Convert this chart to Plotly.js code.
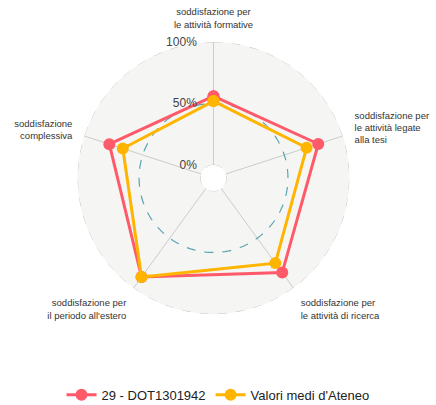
<!DOCTYPE html>
<html>
<head>
<meta charset="utf-8">
<script src="https://cdn.plot.ly/plotly-3.0.1.min.js"></script>
<style>html,body{margin:0;padding:0;background:#fff;}#chart{width:436px;height:405px;}</style>
</head>
<body>
<div id="chart"></div>
<script>
const categories = [
  "soddisfazione per<br>le attività formative",
  "soddisfazione per<br>le attività legate<br>alla tesi",
  "soddisfazione per<br>le attività di ricerca",
  "soddisfazione per<br>il periodo all'estero",
  "soddisfazione<br>complessiva"
];
const seriesNames = ["29 - DOT1301942", "Valori medi d'Ateneo"];
const seriesDot = [56, 79, 84.5, 89, 78.5];
const seriesAteneo = [52, 69, 75, 89, 67];
const referenceLevel = 50;
const radialTicks = [0, 50, 100];
const radialTickText = ["0%", "50%", "100%"];

const step = 360 / categories.length;
const catAngles = categories.map((c, i) => i * step);
const closeLoop = arr => arr.concat([arr[0]]);

const circleAngles = [];
for (let a = 0; a <= 360; a += 3) circleAngles.push(a);

function circleTrace(r, color, width) {
  return {
    type: "scatterpolar", mode: "lines",
    r: circleAngles.map(() => r), theta: circleAngles,
    line: {color: color, width: width, dash: "dash"},
    hoverinfo: "skip", showlegend: false
  };
}

const traces = [
  circleTrace(0, "#c8c8c8", 1),
  circleTrace(100, "#c8c8c8", 1),
  circleTrace(referenceLevel, "#5aa5b0", 1.2),
  {
    type: "scatterpolar", mode: "lines+markers", name: seriesNames[0],
    r: closeLoop(seriesDot), theta: closeLoop(catAngles),
    line: {color: "#FF5A6A", width: 3},
    marker: {color: "#FF5A6A", size: 12}
  },
  {
    type: "scatterpolar", mode: "lines+markers", name: seriesNames[1],
    r: closeLoop(seriesAteneo), theta: closeLoop(catAngles),
    line: {color: "#FFB400", width: 3},
    marker: {color: "#FFB400", size: 12}
  }
];

const layout = {
  width: 436, height: 405,
  margin: {l: 0, r: 0, t: 0, b: 0, autoexpand: false},
  paper_bgcolor: "#ffffff",
  font: {family: "Liberation Sans, Arial, sans-serif", color: "#333"},
  showlegend: true,
  legend: {
    orientation: "h", x: 0.5, xanchor: "center",
    y: 0.025, yanchor: "middle",
    font: {size: 13, color: "#222"}
  },
  polar: {
    domain: {x: [0.1778, 0.8016], y: [0.2247, 0.8963]},
    bgcolor: "#f5f5f3",
    hole: 0.095,
    radialaxis: {
      range: [0, 100], angle: 90, tickangle: 90, side: "counterclockwise",
      tickvals: radialTicks, ticktext: radialTickText,
      showgrid: false, showline: false,
      ticks: "outside", ticklen: 12, tickcolor: "rgba(0,0,0,0)",
      tickfont: {size: 12, color: "#444"}
    },
    angularaxis: {
      type: "linear", rotation: 90, direction: "clockwise",
      tickvals: catAngles, ticktext: categories,
      showline: false, ticks: "outside", ticklen: 10, tickcolor: "rgba(0,0,0,0)",
      gridcolor: "#cccccc", gridwidth: 1,
      tickfont: {size: 9.5, color: "#333"}
    }
  }
};

Plotly.newPlot("chart", traces, layout, {displayModeBar: false, staticPlot: true});
</script>
</body>
</html>
